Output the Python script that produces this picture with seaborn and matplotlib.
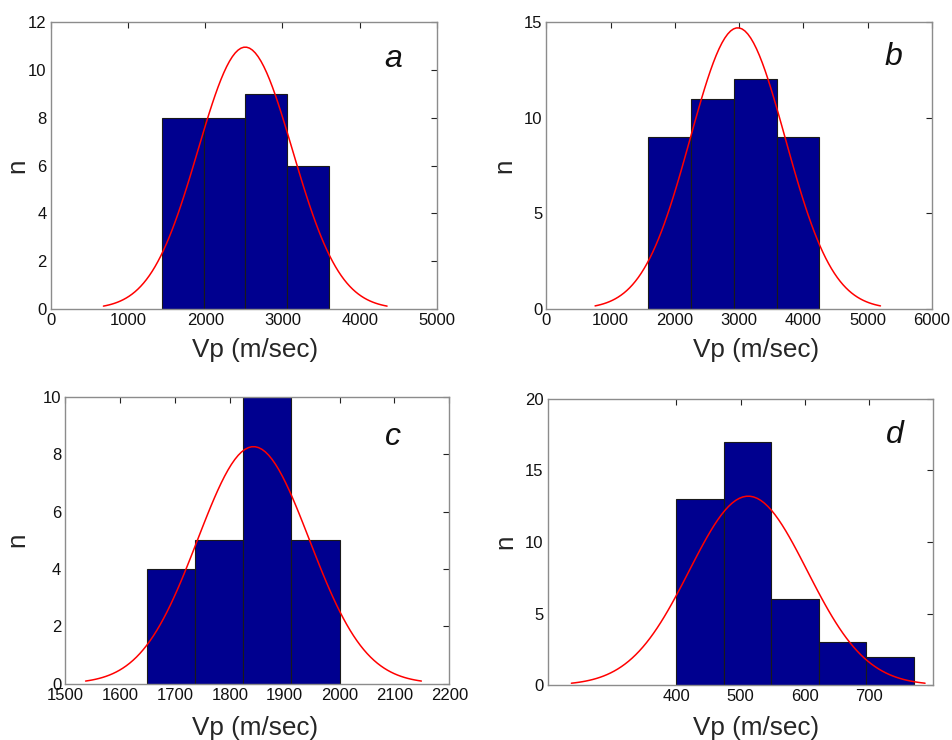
import numpy as np
import pandas as pd
import matplotlib
matplotlib.use("Agg")
import matplotlib.pyplot as plt
import seaborn as sns

sns.set_theme(style="white")
plt.rcParams["font.family"] = ["Liberation Sans", "DejaVu Sans"]

# Histogram bin edges and counts for each sample
edges_a = [1436, 1978, 2520, 3062, 3604]
counts_a = [8, 8, 9, 6]
edges_b = [1587, 2252, 2917, 3582, 4247]
counts_b = [9, 11, 12, 9]
edges_c = [1648, 1736, 1824, 1912, 2000]
counts_c = [4, 5, 10, 5]
edges_d = [400, 474, 548, 622, 696, 770]
counts_d = [13, 17, 6, 3, 2]

# Fitted normal distributions (mean, standard deviation)
fit_a = (2518, 612)
fit_b = (2978, 740)
fit_c = (1843, 102)
fit_d = (512, 91.7)

panel_letters = ["a", "b", "c", "d"]

xlims = [(0, 5000), (0, 6000), (1500, 2200), (200, 800)]
xticks = [[0, 1000, 2000, 3000, 4000, 5000],
          [0, 1000, 2000, 3000, 4000, 5000, 6000],
          [1500, 1600, 1700, 1800, 1900, 2000, 2100, 2200],
          [400, 500, 600, 700]]
ylims = [(0, 12), (0, 15), (0, 10), (0, 20)]
yticks = [[0, 2, 4, 6, 8, 10, 12], [0, 5, 10, 15],
          [0, 2, 4, 6, 8, 10], [0, 5, 10, 15, 20]]

axes_rects = [
    [0.0533, 0.5824, 0.4057, 0.3878],
    [0.5739, 0.5824, 0.4051, 0.3878],
    [0.0686, 0.0761, 0.4034, 0.3878],
    [0.5753, 0.0739, 0.4051, 0.3873],
]
letter_pos = [(0.886, 0.872), (0.901, 0.879), (0.854, 0.860), (0.901, 0.873)]
xlabel_pos = [(0.528, -0.100), (0.544, -0.100), (0.493, -0.114), (0.540, -0.108)]
ylabel_pos = [(-0.056, 0.5), (-0.077, 0.5), (-0.0945, 0.5), (-0.080, 0.5)]

BAR = "#00008F"
SPINE = "#8c8c8c"

fig = plt.figure(figsize=(9.52, 7.40), dpi=100)

datasets = [(edges_a, counts_a, fit_a), (edges_b, counts_b, fit_b),
            (edges_c, counts_c, fit_c), (edges_d, counts_d, fit_d)]

for i, (edges, counts, (mu, sd)) in enumerate(datasets):
    ax = fig.add_axes(axes_rects[i])
    e = np.asarray(edges, dtype=float)
    centers = (e[:-1] + e[1:]) / 2
    df = pd.DataFrame({"Vp": centers, "n": counts})
    sns.histplot(data=df, x="Vp", weights="n", bins=list(edges), ax=ax,
                 color=BAR, alpha=1.0, edgecolor="#1a1a1a", linewidth=0.8)

    # Normal curve scaled to the histogram area
    width = e[1] - e[0]
    total = sum(counts)
    xs = np.linspace(mu - 3 * sd, mu + 3 * sd, 100)
    ys = total * width * np.exp(-0.5 * ((xs - mu) / sd) ** 2) / (sd * np.sqrt(2 * np.pi))
    sns.lineplot(x=xs, y=ys, ax=ax, color="red", linewidth=1.1)

    ax.set_xlim(*xlims[i])
    ax.set_ylim(*ylims[i])
    ax.set_xticks(xticks[i])
    ax.set_yticks(yticks[i])
    ax.tick_params(direction="in", length=4, width=0.8, color="#222222",
                   top=True, right=True, labelsize=12, pad=3,
                   labelcolor="#111111")
    for sp in ax.spines.values():
        sp.set_visible(True)
        sp.set_color(SPINE)
        sp.set_linewidth(1.0)
    ax.set_xlabel("Vp (m/sec)", fontsize=18.8)
    ax.set_ylabel("n", fontsize=18.8)
    ax.xaxis.set_label_coords(*xlabel_pos[i])
    ax.yaxis.set_label_coords(*ylabel_pos[i])
    ax.text(letter_pos[i][0], letter_pos[i][1], panel_letters[i],
            transform=ax.transAxes, fontsize=23, fontstyle="italic",
            ha="center", va="center", color="#111111")

fig.savefig("out.png", dpi=100)
